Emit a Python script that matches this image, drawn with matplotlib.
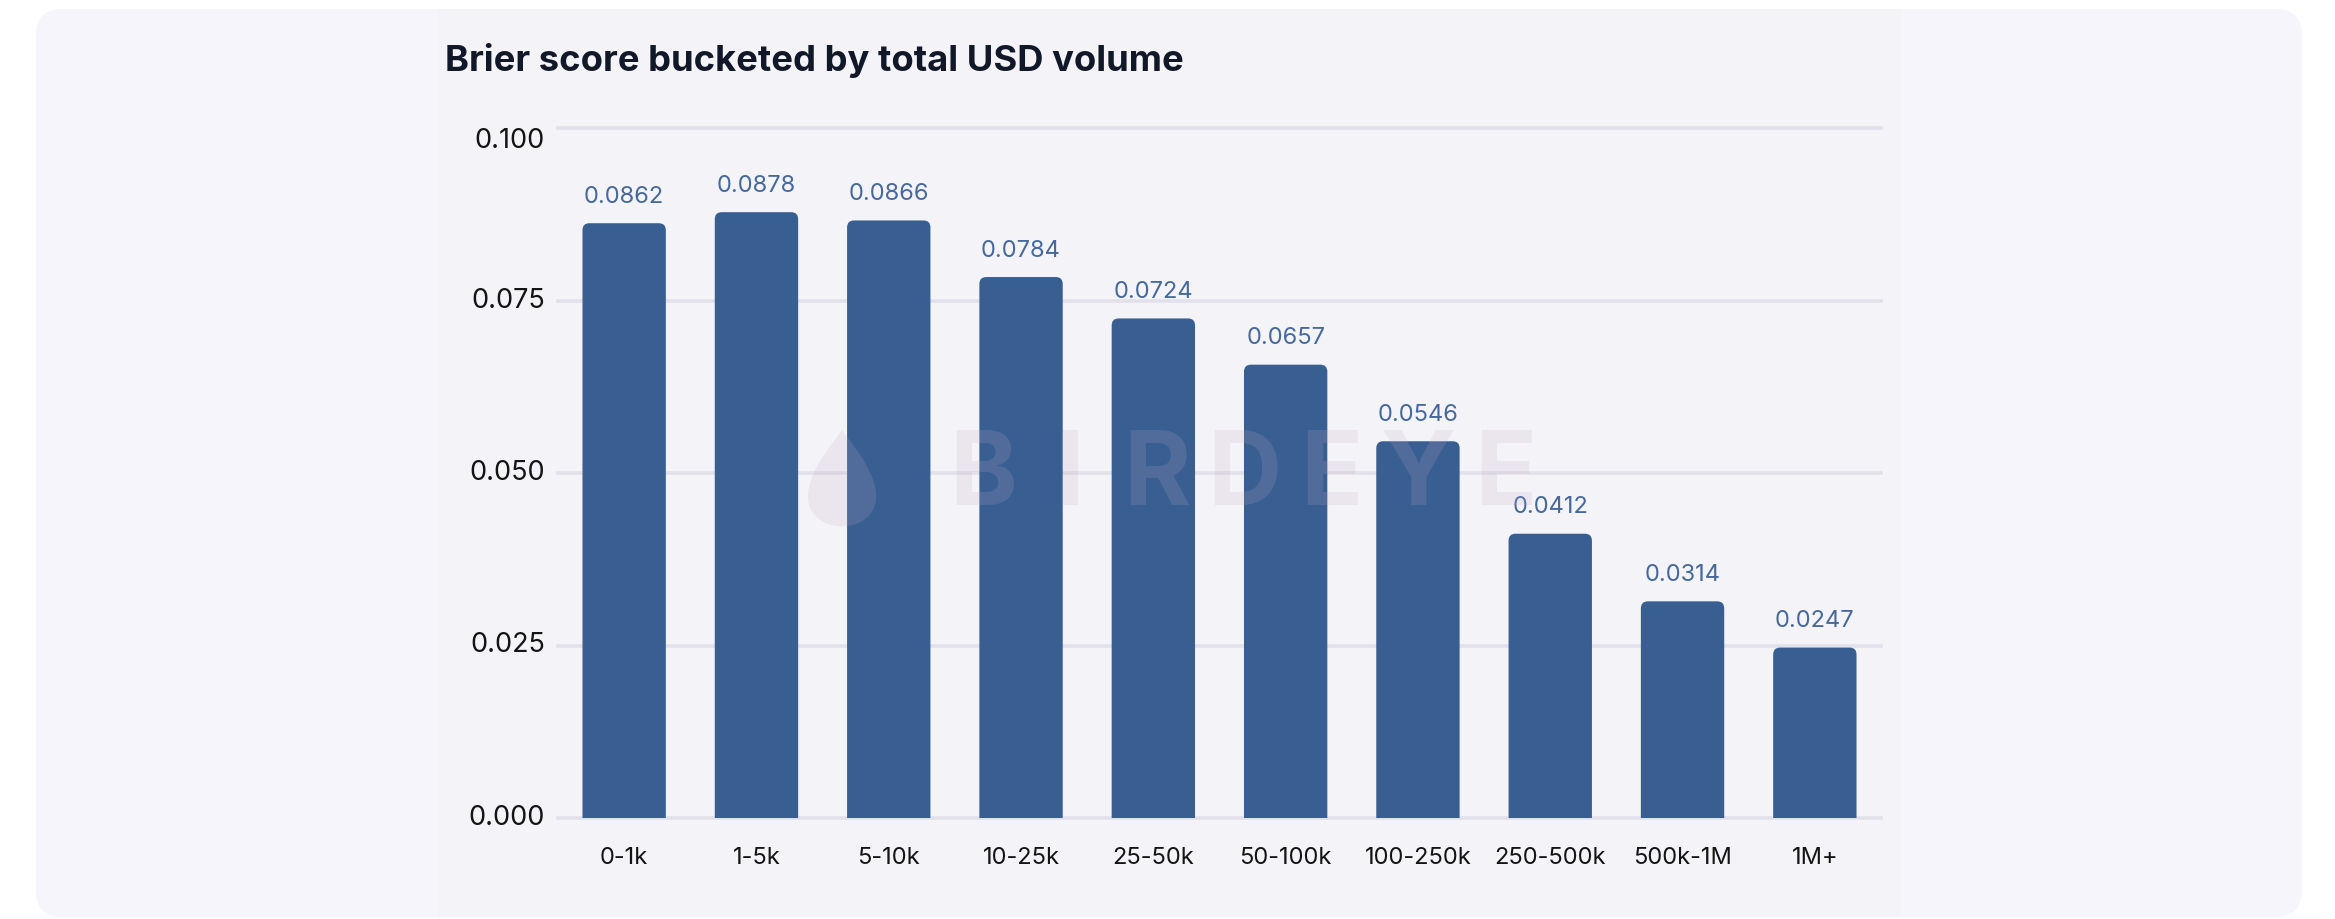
import matplotlib
matplotlib.use("Agg")
import matplotlib.pyplot as plt
from matplotlib.patches import FancyBboxPatch, Rectangle, PathPatch
from matplotlib.path import Path
from matplotlib.transforms import IdentityTransform
import numpy as np

# Brier score per total USD volume bucket
buckets = ["0-1k", "1-5k", "5-10k", "10-25k", "25-50k", "50-100k",
           "100-250k", "250-500k", "500k-1M", "1M+"]
brier = [0.0862, 0.0878, 0.0866, 0.0784, 0.0724, 0.0657,
         0.0546, 0.0412, 0.0314, 0.0247]
y_ticks = [0.0, 0.025, 0.05, 0.075, 0.1]
y_tick_labels = ["0.000", "0.025", "0.050", "0.075", "0.100"]

W, H, DPI = 2335, 919, 100
BAR = "#385E92"

plt.rcParams['font.family'] = ['Inter', 'DejaVu Sans']

fig = plt.figure(figsize=(W / DPI, H / DPI), dpi=DPI, facecolor="white")


def px(x0, y0, x1, y1):
    # top-left pixel box -> display coords (origin bottom-left)
    return x0, H - y1, x1 - x0, y1 - y0


# card + chart panel behind everything
x, y, w, h = px(36, 9, 2302, 917)
fig.patches.append(FancyBboxPatch((x, y), w, h, boxstyle="round,pad=0,rounding_size=26",
                                  transform=IdentityTransform(), facecolor="#F7F5FC",
                                  edgecolor="none", zorder=-10))
x, y, w, h = px(438, 9, 1901, 917)
fig.patches.append(Rectangle((x, y), w, h, transform=IdentityTransform(),
                             facecolor="#F4F3F8", edgecolor="none", zorder=-9))

# axes box in pixels: left 558, right 1881, top 128, bottom 818
ax_l, ax_r, ax_t, ax_b = 558, 1881, 128, 818
ax = fig.add_axes([ax_l / W, 1 - ax_b / H, (ax_r - ax_l) / W, (ax_b - ax_t) / H])
ax.set_facecolor("none")
for s in ax.spines.values():
    s.set_visible(False)

xs = np.arange(len(buckets))
ax.set_xlim(-0.5, len(buckets) - 0.5)
ax.set_ylim(0, 0.1)

for t in y_ticks:
    ax.axhline(t, color="#E2E0EA", linewidth=2.6, zorder=0, clip_on=False)

bars = ax.bar(xs, brier, width=0.63, color=BAR, zorder=2)
ax.bar_label(bars, labels=[f"{v:.4f}" for v in brier], padding=11,
             fontsize=17, color="#46699C")

# redraw each bar with rounded top corners; the part below zero is clipped
x_per_px = len(buckets) / (ax_r - ax_l)
y_per_px = 0.1 / (ax_b - ax_t)
r = 7 * x_per_px
for b in bars:
    bx, bw, bh = b.get_x(), b.get_width(), b.get_height()
    ax.add_patch(FancyBboxPatch((bx, -bh), bw, 2 * bh,
                                boxstyle=f"round,pad=0,rounding_size={r}",
                                mutation_aspect=y_per_px / x_per_px,
                                facecolor=BAR, edgecolor="none", zorder=2))
    b.set_visible(False)

ax.set_xticks(xs, buckets)
ax.tick_params(axis="x", length=0, pad=21, labelsize=17, labelcolor="#141414")
ax.set_yticks([])

# y labels; the top one sits a little below its gridline
for t, lab in zip(y_ticks, y_tick_labels):
    dy = -9.5 if t == y_ticks[-1] else 0
    ax.annotate(lab, xy=(0, t), xycoords=("axes fraction", "data"),
                xytext=(-9.5, dy), textcoords="offset points",
                ha="right", va="center", fontsize=19.5, color="#141414",
                annotation_clip=False)

fig.text(445 / W, 1 - 61 / H, "Brier score bucketed by total USD volume",
         fontsize=26.2, fontweight="bold", color="#111827", ha="left", va="center")

# faint watermark
wm_color, wm_alpha = "#C4AEC2", 0.18
for i, ch in enumerate("BIRDEYE"):
    fig.text((983 + i * 87) / W, 1 - 478 / H, ch, fontsize=74, fontweight="bold",
             color=wm_color, alpha=wm_alpha, ha="center", va="center", zorder=5)

# drop-shaped logo: outer drop with a hole in it
t = np.linspace(0, 2 * np.pi, 200)
cx, cy, rr = 842, H - 478, 46
outer = np.column_stack([cx + rr * np.sin(t) * np.sin(t / 2) ** 1.2,
                         cy + 1.05 * rr * np.cos(t)])
inner = np.column_stack([cx + 0.45 * rr * np.cos(t[::-1]),
                         cy - 0.35 * rr + 0.45 * rr * np.sin(t[::-1])])
verts = np.vstack([outer, inner])
codes = ([Path.MOVETO] + [Path.LINETO] * (len(outer) - 1)
         + [Path.MOVETO] + [Path.LINETO] * (len(inner) - 1))
fig.patches.append(PathPatch(Path(verts, codes), transform=IdentityTransform(),
                             facecolor=wm_color, alpha=wm_alpha, edgecolor="none", zorder=5))

fig.savefig("out.png", dpi=DPI, facecolor="white")
